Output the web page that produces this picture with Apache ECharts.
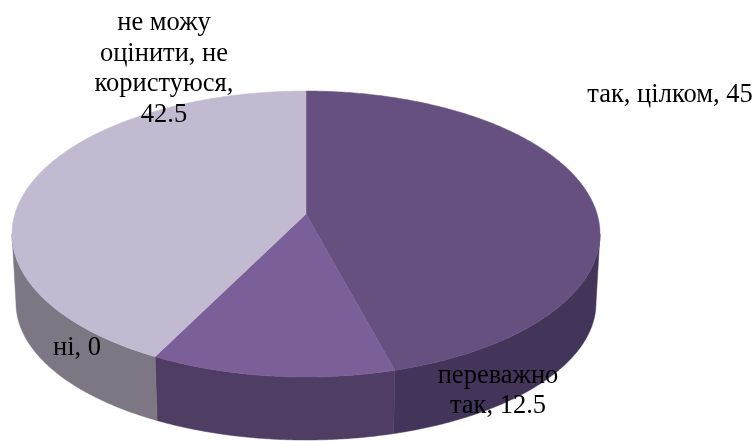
<!DOCTYPE html>
<html>
<head>
<meta charset="utf-8">
<style>html,body{margin:0;padding:0;background:#fff}#c{width:756px;height:441px}</style>
<script src="https://cdn.jsdelivr.net/npm/echarts@6/dist/echarts.min.js"></script>
</head>
<body>
<div id="c"></div>
<script>
// Data
const categories = ['так, цілком', 'переважно\nтак', 'ні', 'не можу\nоцінити, не\nкористуюся'];
const values = [45, 12.5, 0, 42.5];
const labelSeparators = [', ', ', ', ', ', ',\n'];

// Styles
const topColors = ['#65507f', '#7a5f99', '#7d7784', '#c2bad1'];
const sideColors = ['#43355a', '#4f3d63', '#7d7784', '#7d7784'];
const labelCenters = [[670, 95], [498, 391], [77, 348], [164, 69]];

// Projection of the tilted disc
const apex = [306, 214];
const topEllipse = {cx: 306, cy: 234, rx: 294, ry: 143};
const bottomEllipse = {cx: 306, cy: 303, rx: 290, ry: 137};
const persp = {k: 291, a: -110.27, c: 0.13986};

const total = values.reduce((s, v) => s + v, 0);
const rad = d => d * Math.PI / 180;

// value angle (deg, clockwise from top) -> eccentric angle on the rim (deg)
function rimAngle(deg) {
  if (deg <= 0) return 0;
  if (deg >= 360) return 360;
  const warped = deg < 180 ? deg + 8.7 * Math.sin(rad(deg)) : deg;
  const u = Math.sin(rad(warped)), v = Math.cos(rad(warped));
  const d = 1 + persp.c * v;
  const x = persp.k * u / d;
  const y = (persp.a * v + apex[1]) / d;
  let phi = Math.atan2(x / topEllipse.rx, (topEllipse.cy - y) / topEllipse.ry) * 180 / Math.PI;
  if (phi < 0) phi += 360;
  return phi;
}
function onEllipse(e, phi) {
  return [e.cx + e.rx * Math.sin(rad(phi)), e.cy - e.ry * Math.cos(rad(phi))];
}
function arc(e, a, b) {
  const n = Math.max(2, Math.ceil(Math.abs(b - a) / 0.5));
  const pts = [];
  for (let i = 0; i <= n; i++) pts.push(onEllipse(e, a + (b - a) * i / n));
  return pts;
}

let acc = 0;
const spans = values.map(v => {
  const s = acc / total * 360;
  acc += v;
  return [rimAngle(s), rimAngle(acc / total * 360)];
});

function renderSlice(params) {
  const i = params.dataIndex;
  const [a, b] = spans[i];
  const children = [];
  if (b > a) {
    const fa = Math.max(a, 90), fb = Math.min(b, 270);
    if (fb > fa) {
      const pts = arc(topEllipse, fa, fb).concat(arc(bottomEllipse, fb, fa));
      children.push({
        type: 'polygon', z2: 1, shape: {points: pts},
        style: {fill: sideColors[i], stroke: sideColors[i], lineWidth: 0.5}
      });
    }
    children.push({
      type: 'polygon', z2: 2, shape: {points: [apex].concat(arc(topEllipse, a, b))},
      style: {fill: topColors[i], stroke: topColors[i], lineWidth: 0.5}
    });
  }
  children.push({
    type: 'text', z2: 100,
    x: labelCenters[i][0], y: labelCenters[i][1],
    style: {
      text: categories[i] + labelSeparators[i] + values[i],
      fill: '#000', font: '26.5px "Liberation Serif"',
      align: 'center', verticalAlign: 'middle', lineHeight: 30.7
    }
  });
  return {type: 'group', children};
}

const chart = echarts.init(document.getElementById('c'), null, {renderer: 'canvas'});
chart.setOption({
  animation: false,
  backgroundColor: '#fff',
  series: [{
    type: 'custom',
    coordinateSystem: 'none',
    silent: true,
    renderItem: renderSlice,
    data: values.map((v, i) => [i, v])
  }]
});
</script>
</body>
</html>
